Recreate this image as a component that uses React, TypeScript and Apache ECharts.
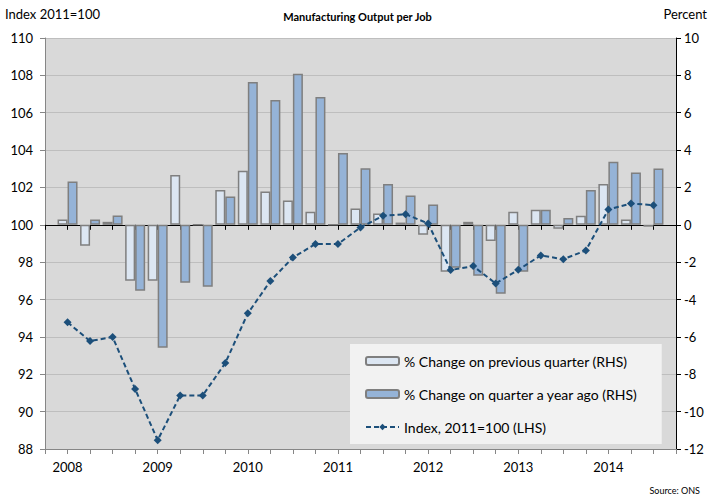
import React, { useEffect, useRef } from 'react';
import * as echarts from 'echarts';

// 2008 Q1 .. 2014 Q3
const quarters = [
  '2008 Q1', '2008 Q2', '2008 Q3', '2008 Q4',
  '2009 Q1', '2009 Q2', '2009 Q3', '2009 Q4',
  '2010 Q1', '2010 Q2', '2010 Q3', '2010 Q4',
  '2011 Q1', '2011 Q2', '2011 Q3', '2011 Q4',
  '2012 Q1', '2012 Q2', '2012 Q3', '2012 Q4',
  '2013 Q1', '2013 Q2', '2013 Q3', '2013 Q4',
  '2014 Q1', '2014 Q2', '2014 Q3'
];

const changePrevQuarter = [
  0.29, -1.12, 0.16, -3.0,
  -3.0, 2.67, 0.0, 1.87,
  2.89, 1.78, 1.3, 0.7,
  0.0, 0.87, 0.6, 0.12,
  -0.53, -2.51, 0.16, -0.87,
  0.7, 0.8, -0.21, 0.48,
  2.19, 0.29, -0.1
];

const changeYearAgo = [
  2.32, 0.29, 0.5, -3.53,
  -6.58, -3.1, -3.32, 1.52,
  7.65, 6.68, 8.09, 6.84,
  3.85, 3.03, 2.19, 1.57,
  1.09, -2.3, -2.73, -3.69,
  -2.51, 0.8, 0.37, 1.87,
  3.37, 2.8, 3.01
];

const indexValues = [
  94.78, 93.78, 93.99, 91.21,
  88.47, 90.87, 90.87, 92.6,
  95.26, 96.99, 98.25, 98.97,
  98.97, 99.86, 100.48, 100.57,
  100.07, 97.58, 97.79, 96.86,
  97.59, 98.36, 98.16, 98.63,
  100.82, 101.14, 101.05
];

const FONT = 'Lato, "Liberation Sans", sans-serif';

export default function App() {
  const chartRef = useRef<HTMLDivElement>(null);

  useEffect(() => {
    if (!chartRef.current) return;
    const chart = echarts.init(chartRef.current, null, { renderer: 'svg' });

    // empty slot at each end of the axis
    const cats = ['', ...quarters, ''];
    const pad = (arr: number[]) => [null, ...arr, null];
    const yearLabel = (v: string) => (v.endsWith('Q1') ? v.slice(0, 4) : '');

    const option: echarts.EChartsOption = {
      animation: false,
      backgroundColor: '#ffffff',
      textStyle: { fontFamily: FONT },
      title: {
        text: 'Manufacturing Output per Job',
        left: 'center',
        top: 6,
        textStyle: { fontFamily: FONT, fontSize: 11, fontWeight: 'bold', color: '#000' }
      },
      graphic: [
        {
          type: 'text',
          left: 5,
          top: 7,
          style: { text: 'Index 2011=100', font: `13px ${FONT}`, fill: '#000' }
        },
        {
          type: 'text',
          right: 8,
          top: 7,
          style: { text: 'Percent', font: `13px ${FONT}`, fill: '#000' }
        },
        {
          type: 'text',
          right: 15,
          top: 486,
          style: { text: 'Source: ONS', font: `9px ${FONT}`, fill: '#000' }
        }
      ],
      legend: {
        orient: 'vertical',
        left: 350,
        top: 344,
        backgroundColor: '#f2f2f2',
        padding: [9, 24, 9, 15],
        itemWidth: 33,
        itemHeight: 8,
        itemGap: 17,
        textStyle: { fontFamily: FONT, fontSize: 14, color: '#000', lineHeight: 16 },
        data: [
          '% Change on previous quarter (RHS)',
          '% Change on quarter a year ago (RHS)',
          'Index, 2011=100 (LHS)'
        ]
      },
      grid: {
        left: 45,
        right: 39,
        top: 38,
        bottom: 51,
        show: true,
        backgroundColor: '#d9d9d9',
        borderWidth: 0
      },
      xAxis: [
        {
          type: 'category',
          data: cats,
          boundaryGap: false,
          position: 'bottom',
          axisLine: { onZero: false, lineStyle: { color: '#868686', width: 1 } },
          axisTick: { show: true, interval: 0, length: 5, lineStyle: { color: '#868686' } },
          axisLabel: {
            interval: 0,
            margin: 11,
            fontSize: 13,
            color: '#000',
            fontFamily: FONT,
            formatter: yearLabel
          },
          splitLine: { show: false }
        },
        {
          type: 'category',
          data: cats,
          boundaryGap: false,
          position: 'top',
          axisLine: { onZero: true, onZeroAxisIndex: 1, lineStyle: { color: '#000', width: 1 } },
          axisTick: { show: true, inside: true, interval: 0, length: 5, lineStyle: { color: '#000' } },
          axisLabel: { show: false },
          splitLine: { show: false }
        }
      ],
      yAxis: [
        {
          type: 'value',
          min: 88,
          max: 110,
          interval: 2,
          position: 'left',
          axisLine: { show: true, lineStyle: { color: '#868686' } },
          axisTick: { show: true, length: 5, lineStyle: { color: '#868686' } },
          axisLabel: { fontSize: 13, color: '#000', fontFamily: FONT, margin: 12 },
          splitLine: { show: true, lineStyle: { color: '#bebebe', width: 1 } }
        },
        {
          type: 'value',
          min: -12,
          max: 10,
          interval: 2,
          position: 'right',
          axisLine: { show: true, lineStyle: { color: '#000' } },
          axisTick: { show: true, length: 5, lineStyle: { color: '#000' } },
          axisLabel: { fontSize: 13, color: '#000', fontFamily: FONT, margin: 8 },
          splitLine: { show: false }
        }
      ],
      series: [
        {
          name: '% Change on previous quarter (RHS)',
          type: 'bar',
          xAxisIndex: 0,
          yAxisIndex: 1,
          data: pad(changePrevQuarter),
          barWidth: 10,
          barGap: '0%',
          itemStyle: { color: '#dce6f2', borderColor: '#7f7f7f', borderWidth: 1.5 }
        },
        {
          name: '% Change on quarter a year ago (RHS)',
          type: 'bar',
          xAxisIndex: 0,
          yAxisIndex: 1,
          data: pad(changeYearAgo),
          barWidth: 10,
          barGap: '0%',
          itemStyle: { color: '#95b3d7', borderColor: '#7f7f7f', borderWidth: 1.5 }
        },
        {
          name: 'Index, 2011=100 (LHS)',
          type: 'line',
          xAxisIndex: 0,
          yAxisIndex: 0,
          data: pad(indexValues),
          z: 5,
          symbol: 'diamond',
          symbolSize: 8,
          showAllSymbol: true,
          itemStyle: { color: '#1c4f7a' },
          lineStyle: { color: '#1c4f7a', width: 2, type: [5, 3] }
        }
      ]
    };

    chart.setOption(option);

    return () => {
      chart.dispose();
    };
  }, []);

  return (
    <div
      ref={chartRef}
      style={{ position: 'fixed', left: 0, top: 0, width: '715px', height: '500px' }}
    />
  );
}
